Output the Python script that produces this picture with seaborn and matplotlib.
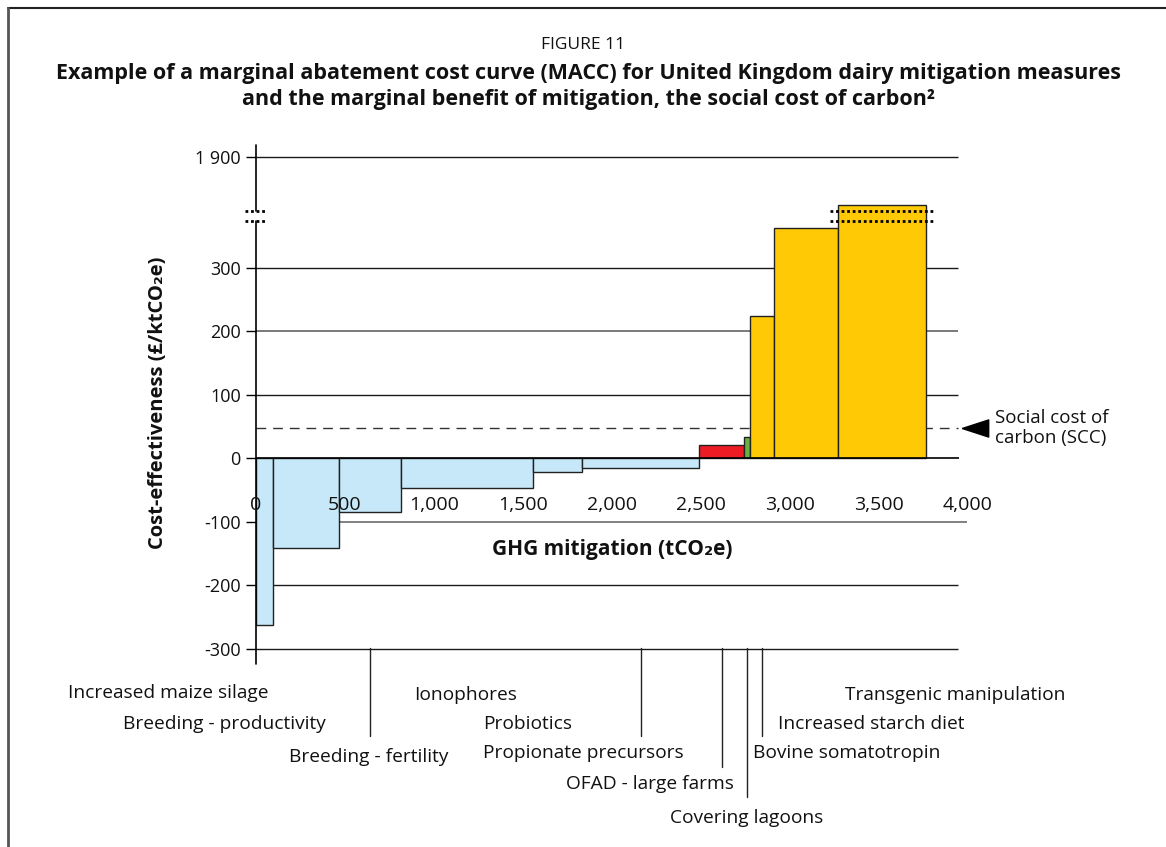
import numpy as np
import matplotlib
matplotlib.use("Agg")
import matplotlib.pyplot as plt
import seaborn as sns
from matplotlib.transforms import blended_transform_factory
from matplotlib.lines import Line2D
from matplotlib.path import Path

# Data
measures = ["Increased maize silage", "Breeding - productivity", "Breeding - fertility",
            "Ionophores", "Probiotics", "Propionate precursors", "OFAD - large farms",
            "Covering lagoons", "Bovine somatotropin", "Increased starch diet",
            "Transgenic manipulation"]
abatement = [97, 371, 348, 740, 277, 656, 254, 31, 138, 356, 494]   # tCO2e
cost = [-262, -142, -85, -47, -22, -16, 21, 34, 224, 363, 1825]     # £/ktCO2e
scc = 47
xtick_vals = [0, 500, 1000, 1500, 2000, 2500, 3000, 3500, 4000]
ytick_vals = [-300, -200, -100, 0, 100, 200, 300, 1900]
ytick_labels = ["-300", "-200", "-100", "0", "100", "200", "300", "1 900"]

# styling / layout
bar_colors = ["#c7e8f8"] * 6 + ["#ed1c24", "#6ab23e"] + ["#ffc905"] * 3
# label centre positions in pixels (x, y) and leader line end (pixels) if any
label_pos = [(168, 693), (224, 724), (369, 757), (466, 695), (528, 724), (583, 753),
             (650, 784), (747, 818), (847, 753), (871, 724), (955, 695)]
leader_end = {2: 736, 5: 736, 6: 767, 7: 797, 8: 736}

W, H = 1166, 847


def fx(px):
    return px / W


def fy(py):
    return 1 - py / H


# broken y axis: compress the range between a and b
a, b, g = 374.0, 1815.0, 389.0


def fwd(y):
    y = np.asarray(y, dtype=float)
    return np.where(y <= a, y, np.where(y >= b, y - b + g, a + (y - a) * (g - a) / (b - a)))


def inv(t):
    t = np.asarray(t, dtype=float)
    return np.where(t <= a, t, np.where(t >= g, t - g + b, a + (t - a) * (b - a) / (g - a)))


sns.set_theme(style="white")
plt.rcParams["font.family"] = ["Open Sans", "DejaVu Sans"]

fig = plt.figure(figsize=(W / 100, H / 100), dpi=100)
ax = fig.add_axes([fx(256), fy(664), fx(968) - fx(256), fy(145) - fy(664)])
ax.set_yscale("function", functions=(fwd, inv))
ax.set_xlim(0, 4000)
ax.set_ylim(-324, 1919)
for s in ax.spines.values():
    s.set_visible(False)

# gridlines
for yv in [1900, 300, 100, -200, -300]:
    ax.hlines(yv, 0, 3944, color="#1a1a1a", lw=1, zorder=0)
ax.hlines(200, 0, 3944, color="#6e6e6e", lw=1.3, zorder=0)
ax.hlines(-100, 0, 3994, color="#777777", lw=1.3, zorder=0, clip_on=False)
ax.hlines(scc, 0, 3944, color="#333333", lw=1, linestyles=(0, (7, 5)), zorder=1)

# bars
abatement = np.array(abatement)
lefts = np.concatenate([[0], np.cumsum(abatement)[:-1]])
ax.bar(lefts, cost, width=abatement, align="edge", color=bar_colors,
       edgecolor="#222222", linewidth=1, zorder=2)
ax.hlines(0, 0, 3949, color="black", lw=1.2, zorder=3)

# y axis with break
ax.plot([0, 0], [-324, a], color="black", lw=1.2, clip_on=False, zorder=4)
ax.plot([0, 0], [b, 1919], color="black", lw=1.2, clip_on=False, zorder=4)
ax.set_yticks(ytick_vals, ytick_labels)
ax.set_xticks([])
ax.tick_params(axis="y", length=7, width=1, color="black", pad=4, labelsize=13,
               labelcolor="#111111", left=True)
for yb in (a, b):
    ax.hlines(yb, -62, 62, color="black", lw=2, linestyles=(0, (1, 1)), clip_on=False, zorder=5)
    ax.hlines(yb, lefts[-1] - 43, lefts[-1] + abatement[-1] + 47, color="black", lw=2,
              linestyles=(0, (1, 1)), clip_on=False, zorder=5)

# x tick labels sit inside the plot
for v in xtick_vals:
    ax.text(v, -74, f"{v:,}", ha="center", va="center", fontsize=14, color="#111111",
            zorder=6, clip_on=False)

# SCC marker and label
tri = Path([(-1, 0), (1, 0.65), (1, -0.65), (-1, 0)])
ax.plot([4039], [scc], marker=tri, markersize=19, color="black", clip_on=False, zorder=6)
fig.text(fx(995), fy(428), "Social cost of\ncarbon (SCC)", ha="left", va="center",
         fontsize=13.5, linespacing=1.2, color="#111111")

# measure labels and leader lines
trans = blended_transform_factory(ax.transData, fig.transFigure)
mids = lefts + abatement / 2
for i, name in enumerate(measures):
    lx, ly = label_pos[i]
    fig.text(fx(lx), fy(ly), name, ha="center", va="center", fontsize=13.8, color="#111111")
    if i in leader_end:
        ax.plot([mids[i], mids[i]], [fy(648), fy(leader_end[i])], transform=trans,
                color="#222222", lw=1, clip_on=False)

# axis titles
fig.text(fx(612), fy(549), "GHG mitigation (tCO₂e)", ha="center", va="center",
         fontsize=15, fontweight="bold", color="#111111")
fig.text(fx(158), fy(403), "Cost-effectiveness (£/ktCO₂e)", ha="center", va="center",
         rotation=90, fontsize=14.5, fontweight="bold", color="#111111")

# figure title
fig.text(fx(583), fy(45), "FIGURE 11", ha="center", va="center", fontsize=12.5, color="#111111")
fig.text(fx(589), fy(73), "Example of a marginal abatement cost curve (MACC) for United Kingdom dairy mitigation measures",
         ha="center", va="center", fontsize=15.5, fontweight="bold", color="#111111")
fig.text(fx(589), fy(100), "and the marginal benefit of mitigation, the social cost of carbon²",
         ha="center", va="center", fontsize=15.5, fontweight="bold", color="#111111")

# frame
fig.add_artist(Line2D([fx(8), 1], [fy(8), fy(8)], color="#222222", lw=1.5))
fig.add_artist(Line2D([fx(8), fx(8)], [fy(8), 0], color="#555555", lw=2))

fig.savefig("out.png", dpi=100)
